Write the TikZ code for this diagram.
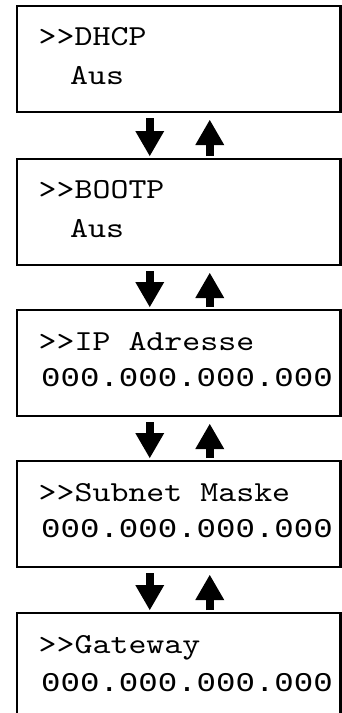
\documentclass[tikz,border=0pt]{standalone}
\usepackage{fontspec}
\usetikzlibrary{arrows.meta}
\newfontfamily\lcdserif{lmmono10-regular.otf}[FakeStretch=1.18]
\newfontfamily\lcdsans{Liberation Mono}[FakeStretch=1.2]
\tikzset{
  lcdbox/.style={draw, line width=2.5pt, outer sep=0pt, inner sep=0pt,
    minimum width=323.5pt, minimum height=106pt},
  lcdtop/.style={inner sep=0pt, anchor=base west, font=\lcdserif\fontsize{29pt}{29pt}\selectfont},
  lcdbottom/.style={inner sep=0pt, anchor=base west, font=\lcdsans\fontsize{27pt}{27pt}\selectfont},
  flowarrow/.style={line width=8pt, -{Triangle[width=29pt,length=25pt,line width=0pt]}},
}
\begin{document}
\begin{tikzpicture}[x=1pt,y=-1pt]
% Page frame
\useasboundingbox (0,0) rectangle (342,713);
\clip (0,0) rectangle (342,713);
% Display boxes
\node[lcdbox] (dhcp) at (178.75,59) {};
\node[lcdbox] (bootp) at (178.75,212) {};
\node[lcdbox] (ip) at (178.75,363) {};
\node[lcdbox] (subnet) at (178.75,514) {};
\node[lcdbox] (gateway) at (178.75,666) {};
% Display texts
\node[lcdtop] (dhcp-a) at ([xshift=21.5pt,yshift=-39pt]dhcp.north west) {>>DHCP};
\node[lcdtop] (dhcp-b) at ([xshift=53pt,yshift=-78pt]dhcp.north west) {Aus};
\node[lcdtop] (bootp-a) at ([xshift=21.5pt,yshift=-39pt]bootp.north west) {>>BOOTP};
\node[lcdtop] (bootp-b) at ([xshift=53pt,yshift=-78pt]bootp.north west) {Aus};
\node[lcdtop] (ip-a) at ([xshift=21.5pt,yshift=-40pt]ip.north west) {>>IP Adresse};
\node[lcdbottom] (ip-b) at ([xshift=24pt,yshift=-76pt]ip.north west) {000.000.000.000};
\node[lcdtop] (subnet-a) at ([xshift=21.5pt,yshift=-40pt]subnet.north west) {>>Subnet Maske};
\node[lcdbottom] (subnet-b) at ([xshift=24pt,yshift=-76pt]subnet.north west) {000.000.000.000};
\node[lcdtop] (gateway-a) at ([xshift=21.5pt,yshift=-40pt]gateway.north west) {>>Gateway};
\node[lcdbottom] (gateway-b) at ([xshift=24pt,yshift=-78pt]gateway.north west) {000.000.000.000};
% Arrows down and up
\foreach \a/\b in {dhcp/bootp, bootp/ip, ip/subnet, subnet/gateway}{
  \draw[flowarrow, shorten <=6pt, shorten >=3pt] ([xshift=-29pt]\a.south) -- ([xshift=-29pt]\b.north);
  \draw[flowarrow, shorten <=3pt, shorten >=8pt] ([xshift=31pt]\b.north) -- ([xshift=31pt]\a.south);
}
\end{tikzpicture}
\end{document}
